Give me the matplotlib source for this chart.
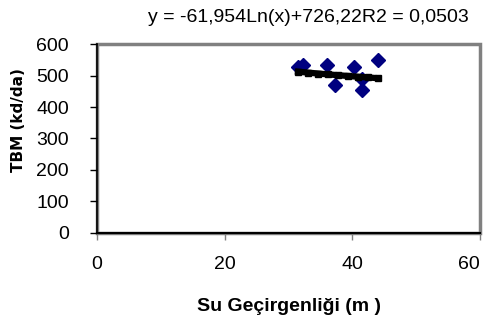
import numpy as np
import matplotlib
matplotlib.use('Agg')
from matplotlib import pyplot as plt
from matplotlib.patches import Rectangle

# veri
su_gecirgenligi = [31.5, 32.2, 36.0, 37.2, 40.2, 41.5, 41.5, 44.0]
tbm = [527, 533, 533, 470, 527, 489, 454, 550]
x_ticks = [0, 20, 40, 60]
y_ticks = [0, 100, 200, 300, 400, 500, 600]
# trend denklemi: y = a*ln(x) + b
a, b = -61.954, 726.22
denklem = 'y = -61,954Ln(x)+726,22R2 = 0,0503'

arial = ['Liberation Sans', 'DejaVu Sans']

fig = plt.figure(figsize=(4.89, 3.27), dpi=100)
ax = fig.add_axes([0.198, 0.288, 0.784, 0.577])

ax.plot(su_gecirgenligi, tbm, linestyle='none', marker='D', ms=7,
        color='#000080', zorder=3)

xt = np.linspace(min(su_gecirgenligi), max(su_gecirgenligi), 9)
ax.plot(xt, a * np.log(xt) + b, color='black', lw=4.5, marker='s', ms=4.5,
        zorder=4)

ax.set_xlim(0, 60)
ax.set_ylim(0, 600)
ax.set_xticks(x_ticks)
ax.set_yticks(y_ticks)
for lab in ax.get_xticklabels() + ax.get_yticklabels():
    lab.set_family(arial)
    lab.set_fontsize(14)
ax.tick_params(axis='y', length=5, width=1, pad=15, colors='black')
ax.tick_params(axis='x', length=5, width=1, pad=12, color='#808080')
ax.get_xticklabels()[-1].set_horizontalalignment('right')

# gri cerceve
ax.add_patch(Rectangle((0, 0), 1, 1, transform=ax.transAxes, fill=False,
                       edgecolor='#808080', lw=2.5, zorder=1, clip_on=False))
for s in ['top', 'right']:
    ax.spines[s].set_visible(False)
ax.spines['left'].set_color('black')
ax.spines['left'].set_linewidth(1.2)
ax.spines['bottom'].set_color('black')
ax.spines['bottom'].set_linewidth(1.5)

ax.set_xlabel('Su Geçirgenliği (m )', family=arial, fontsize=14,
              fontweight='bold', labelpad=18)
fig.text(0.037, 0.633, 'TBM (kd/da)', rotation=90, ha='center', va='center',
         fontsize=11, fontweight='bold')
fig.text(0.63, 0.948, denklem, ha='center', va='center', family=arial,
         fontsize=14)

fig.savefig('out.png', dpi=100)
